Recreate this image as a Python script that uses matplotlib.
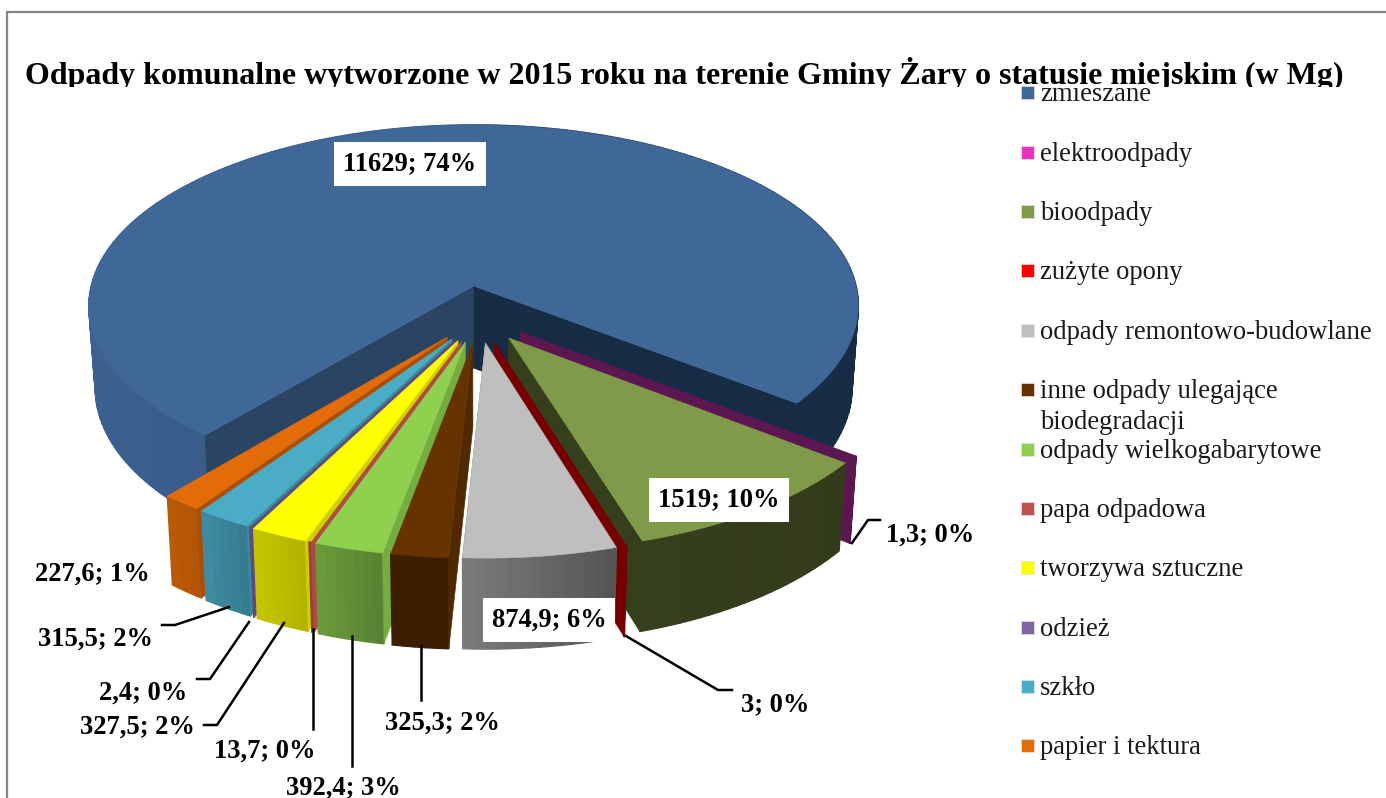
import numpy as np
import matplotlib
matplotlib.use('Agg')
import matplotlib.pyplot as plt
from matplotlib.patches import Rectangle
from matplotlib.colors import to_rgb

# dane z wykresu
kategorie = ['zmieszane', 'elektroodpady', 'bioodpady', 'zużyte opony',
             'odpady remontowo-budowlane', 'inne odpady ulegające\nbiodegradacji',
             'odpady wielkogabarytowe', 'papa odpadowa', 'tworzywa sztuczne',
             'odzież', 'szkło', 'papier i tektura']
wartosci = [11629, 1.3, 1519, 3, 874.9, 325.3, 392.4, 13.7, 327.5, 2.4, 315.5, 227.6]
etykiety = ['11629; 74%', '1,3; 0%', '1519; 10%', '3; 0%', '874,9; 6%', '325,3; 2%',
            '392,4; 3%', '13,7; 0%', '327,5; 2%', '2,4; 0%', '315,5; 2%', '227,6; 1%']
kolory_gora = ['#3f6797', '#e535c0', '#7f9a48', '#ff0000', '#bfbfbf', '#663300',
               '#8fd14f', '#c0504d', '#ffff00', '#8064a2', '#4bacc6', '#e36c09']
# sciana lewa / prawa (gradient) i sciana ciecia
kolory_sciana = [('#3c6190', '#172c45'), ('#5c1650', '#5c1650'), ('#363f1c', '#333b1b'),
                 ('#760000', '#760000'), ('#7a7a7a', '#555555'), ('#3e1e00', '#3e1e00'),
                 ('#6a9a3a', '#5a8233'), ('#95403e', '#95403e'), ('#c4c400', '#b4b400'),
                 ('#5f4b7a', '#5f4b7a'), ('#3f8ba0', '#357c91'), ('#bb5a06', '#b25505')]
kolory_ciecie = ['#2a4464', '#5c1650', '#363f1c', '#760000', '#7a7a7a', '#512900',
                 '#76ad41', '#b04a48', '#cfcf00', '#5f4b7a', '#39899f', '#a84f05']

plt.rcParams['font.family'] = ['Liberation Serif', 'DejaVu Serif']

fig = plt.figure(figsize=(13.86, 7.98), dpi=100)
ax = fig.add_axes([0, 0, 1, 1])
ax.set_xlim(0, 1386)
ax.set_ylim(798, 0)
ax.axis('off')

# ramka
ax.plot([7, 7, 1386], [798, 12, 12], color='#868686', lw=1.6, solid_joinstyle='miter')

# parametry rzutu 3D (perspektywa)
cx, cy = 479, 314
A, B, C = 389, 184.7, 83
g = 0.11
wybuch_x, wybuch_y = 0.132, 0.155
start = 220


def rzut(x, y, dol=False):
    w = 1 + g * y
    if not dol:
        return cx + A * x / w, cy - B * y / w
    w2 = w * 1.017
    return cx + A * x / w2, cy - B * y / w2 + C / w


def mix(k1, k2, t):
    a, b = np.array(to_rgb(k1)), np.array(to_rgb(k2))
    return tuple(a + (b - a) * t)


def wielokat(pts, kolor, z, lw=0.4):
    xs = [p[0] for p in pts]
    ys = [p[1] for p in pts]
    ax.fill(xs, ys, color=kolor, lw=lw, zorder=z)


def rysuj_wycinek(i, t0, t1, z):
    bis = np.radians((t0 + t1) / 2)
    ox, oy = wybuch_x * np.sin(bis), wybuch_y * np.cos(bis)
    n = max(2, int((t1 - t0) / 1.5) + 2)
    th = np.radians(np.linspace(t0, t1, n))
    px = ox + np.sin(th)
    py = oy + np.cos(th)
    # sciana zewnetrzna
    k1, k2 = kolory_sciana[i]
    for j in range(n - 1):
        a = rzut(px[j], py[j])
        b = rzut(px[j + 1], py[j + 1])
        c = rzut(px[j + 1], py[j + 1], True)
        d = rzut(px[j], py[j], True)
        if i == 0:
            t = np.clip((a[0] - 90) / 770, 0, 1)
            t = 1 if a[0] > cx else t * 0.6
        else:
            t = 1 - j / max(1, n - 2)
        wielokat([a, b, c, d], mix(k1, k2, t), z, lw=1.0)
    # sciany ciecia
    ap, apd = rzut(ox, oy), rzut(ox, oy, True)
    kolejne = [0, n - 1]
    if i != 0:
        kolejne = [n - 1] if np.degrees(bis) % 360 < 180 else [0]
    for e in kolejne:
        o, od = rzut(px[e], py[e]), rzut(px[e], py[e], True)
        kol = kolory_ciecie[i]
        if i == 0 and e == n - 1:
            kol = '#172c45'
        wielokat([ap, o, od, apd], kol, z + 0.1)
    # gora (bardzo waskie wycinki widac tylko jako sciane)
    if t1 - t0 > 0.5:
        gora = [ap] + [rzut(x, y) for x, y in zip(px, py)]
        wielokat(gora, kolory_gora[i], z + 0.2)


suma = sum(wartosci)
katy = [start]
for v in wartosci:
    katy.append(katy[-1] + v / suma * 360)

kolejnosc = [0, 1, 2, 3, 11, 10, 9, 8, 7, 6, 5, 4]
for nr, i in enumerate(kolejnosc):
    rysuj_wycinek(i, katy[i], katy[i + 1], 2 + nr)

# etykiety danych: srodek tekstu
poz_etykiet = [(410, 164), (930, 535), (719, 500), (775, 705), (549, 620), (442, 723),
               (343, 788), (265, 751), (137, 727), (143, 693), (95, 639), (92, 574)]
z_tlem = [0, 2, 4]
for i, (e, p) in enumerate(zip(etykiety, poz_etykiet)):
    box = dict(facecolor='white', edgecolor='none', pad=6.5) if i in z_tlem else None
    ax.text(p[0], p[1], e, fontsize=19.1, fontweight='bold', ha='center', va='center',
            color='black', bbox=box, zorder=30)

# linie odniesienia
linie = [[(852, 543), (868, 520), (880, 520)],
         [(626, 636), (718, 690), (732, 690)],
         [(229, 607), (175, 625), (162, 625)],
         [(249, 622), (210, 679), (197, 679)],
         [(284, 623), (217, 725), (204, 725)],
         [(313, 629), (313, 729)],
         [(352, 636), (352, 766)],
         [(421, 645), (421, 700)]]
for l in linie:
    ax.plot([p[0] for p in l], [p[1] for p in l], color='black', lw=1.8, zorder=25)

# legenda
leg_y = [92, 152, 211, 270, 330, 389, 449, 508, 567, 627, 686, 745]
for i, (n, y) in enumerate(zip(kategorie, leg_y)):
    ax.add_patch(Rectangle((1021, y - 6.5), 12.5, 13, facecolor=kolory_gora[i],
                           edgecolor='#e4e4e4', lw=0.5, zorder=20))
    t = ax.text(1040, y - 10, n, fontsize=19.15, ha='left', va='top',
                color='#1a1a1a', linespacing=1.3, zorder=21)
    if i == 0:
        t.set_clip_on(True)
        t.set_clip_path(Rectangle((0, 86), 1386, 100, transform=ax.transData))

# tytul przyciety od dolu jak w oryginale
tyt = ax.text(25, 84, 'Odpady komunalne wytworzone w 2015 roku na terenie Gminy Żary o statusie miejskim (w Mg)',
              fontsize=23.05, fontweight='bold', ha='left', va='baseline', color='black', zorder=22)
tyt.set_clip_on(True)
tyt.set_clip_path(Rectangle((0, 0), 1386, 87, transform=ax.transData))

fig.savefig('out.png', dpi=100)
